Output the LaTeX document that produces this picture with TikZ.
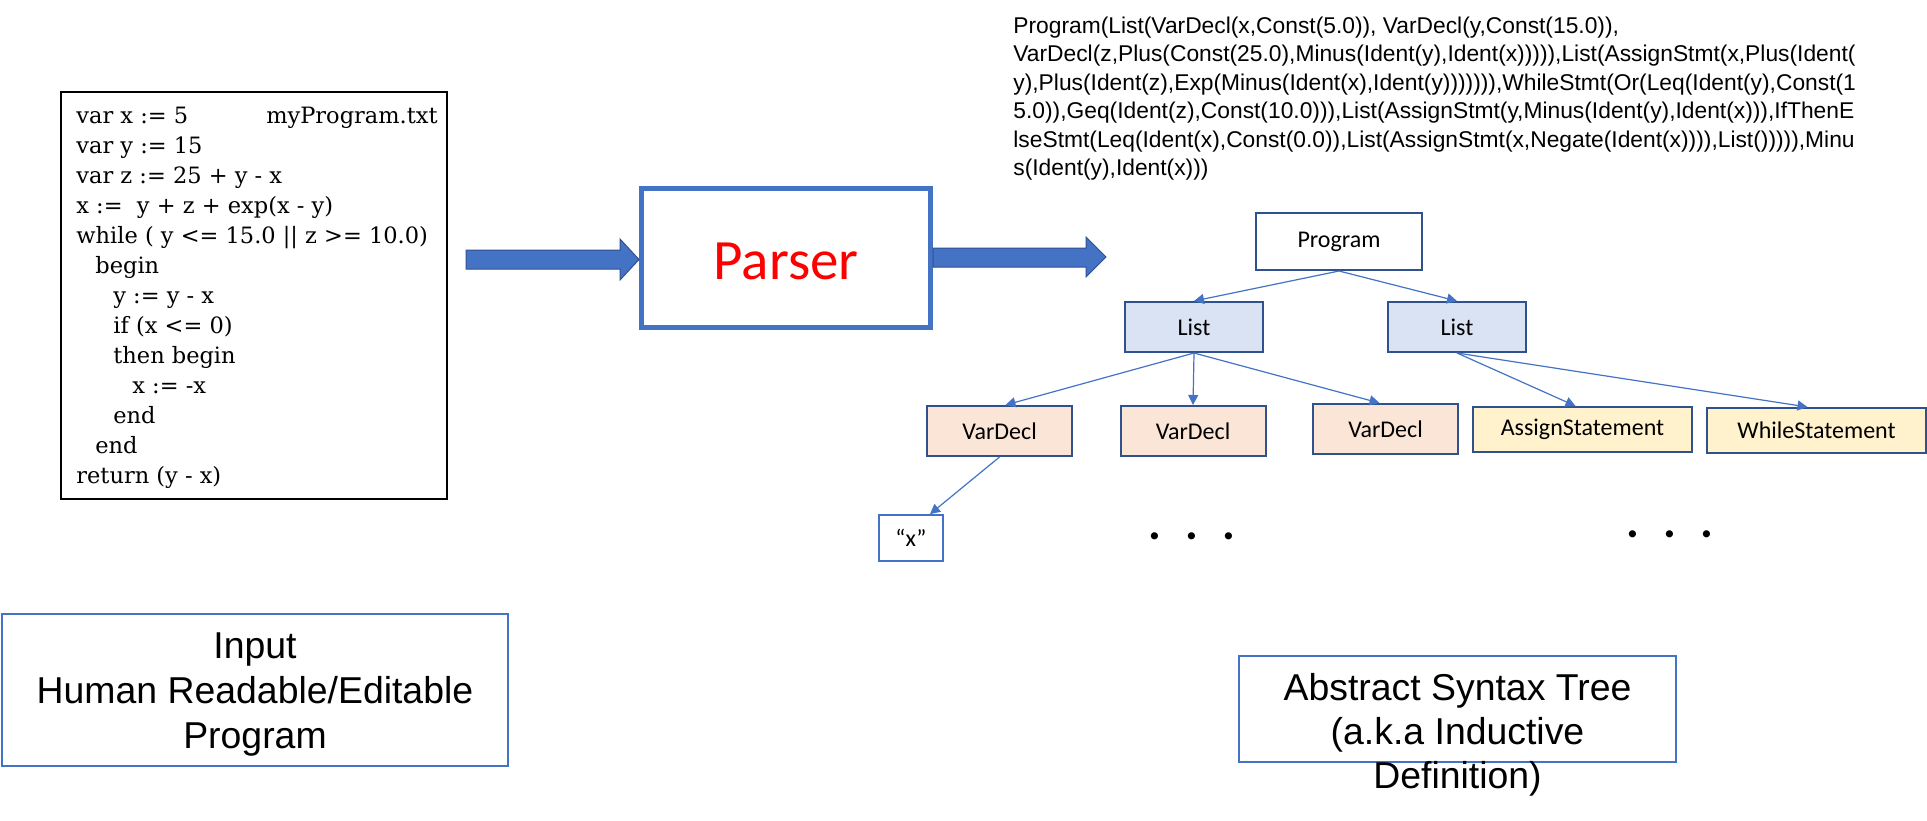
\documentclass[tikz,border=0pt]{standalone}
\usepackage{fontspec}
\newfontfamily\calibri{Carlito}
\newfontfamily\arialf{Liberation Sans}
\newfontfamily\codef{DejaVu Serif}
\usetikzlibrary{arrows.meta}
\definecolor{ofblue}{HTML}{4472C4}
\definecolor{ofdark}{HTML}{2F528F}
\definecolor{listfill}{HTML}{DAE3F3}
\definecolor{declfill}{HTML}{FBE5D6}
\definecolor{stmtfill}{HTML}{FFF2CC}
\definecolor{parsered}{HTML}{FF0000}
\begin{document}
\begin{tikzpicture}[x=0.5pt,y=-0.5pt,
  treebox/.style={draw=ofdark, line width=1pt, inner sep=0pt,
    font=\calibri\fontsize{12}{14}\selectfont, minimum height=25pt},
  listbox/.style={treebox, fill=listfill, minimum width=69pt},
  declbox/.style={treebox, fill=declfill, minimum width=72.5pt},
  stmtbox/.style={treebox, fill=stmtfill, minimum width=109.5pt, minimum height=22.5pt},
  edge/.style={draw=ofblue, line width=0.6pt, -{Triangle[length=5pt,width=5pt]}},
  bigarrow/.style={fill=ofblue, draw=ofdark, line width=0.5pt},
  codeline/.style={anchor=base west, inner sep=0pt, font=\codef\fontsize{11.25}{13}\selectfont},
  asttxt/.style={anchor=base west, inner sep=0pt, font=\arialf\fontsize{11.4}{14}\selectfont},
  captxt/.style={anchor=base, inner sep=0pt, font=\arialf\fontsize{18.7}{22}\selectfont},
  capbox/.style={draw=ofblue, line width=0.75pt, inner sep=0pt},
  dotstxt/.style={anchor=base, inner sep=0pt, font=\calibri\bfseries\fontsize{24}{24}\selectfont}
]
\useasboundingbox (0,0) rectangle (1927,820);
\fill[white] (0,0) rectangle (1927,820);

% ---- code box ----
\node[draw=black, line width=1pt, minimum width=193pt, minimum height=203.5pt, inner sep=0pt] (codebox) at (254,295.5) {};
\node[codeline] (c1) at (76,123) {var x := 5};
\node[codeline, anchor=base east] (fname) at (438,123) {myProgram.txt};
\node[codeline] (c2) at (76,153) {var y := 15};
\node[codeline] (c3) at (76,183) {var z := 25 + y - x};
\node[codeline] (c4) at (76,213) {x := \ y + z + exp(x - y)};
\node[codeline] (c5) at (76,243) {while ( y <= 15.0 || z >= 10.0)};
\node[codeline] (c6) at (95,273) {begin};
\node[codeline] (c7) at (113,303) {y := y - x};
\node[codeline] (c8) at (113,333) {if (x <= 0)};
\node[codeline] (c9) at (113,363) {then begin};
\node[codeline] (c10) at (132,393) {x := -x};
\node[codeline] (c11) at (113,423) {end};
\node[codeline] (c12) at (95,453) {end};
\node[codeline] (c13) at (76,483) {return (y - x)};

% ---- parser ----
\node[draw=ofblue, line width=2.5pt, minimum width=144.5pt, minimum height=69.5pt, inner sep=0pt] (parser) at (786,258) {};
\node[anchor=base, inner sep=0pt, text=parsered, font=\calibri\fontsize{28.5}{30}\selectfont] (ptxt) at (786,279) {Parser};

\draw[bigarrow] (466,250) -- (620,250) -- (620,239) -- (639,259.5) -- (620,280) -- (620,269) -- (466,269) -- cycle;
\draw[bigarrow] (933,248) -- (1086,248) -- (1086,237) -- (1106,257) -- (1086,277) -- (1086,267) -- (933,267) -- cycle;

% ---- textual AST ----
\node[asttxt] (t1) at (1013,33) {Program(List(VarDecl(x,Const(5.0)), VarDecl(y,Const(15.0)),};
\node[asttxt] (t2) at (1013,61.5) {VarDecl(z,Plus(Const(25.0),Minus(Ident(y),Ident(x))))),List(AssignStmt(x,Plus(Ident(};
\node[asttxt] (t3) at (1013,90) {y),Plus(Ident(z),Exp(Minus(Ident(x),Ident(y))))))),WhileStmt(Or(Leq(Ident(y),Const(1};
\node[asttxt] (t4) at (1013,118.5) {5.0)),Geq(Ident(z),Const(10.0))),List(AssignStmt(y,Minus(Ident(y),Ident(x))),IfThenE};
\node[asttxt] (t5) at (1013,147) {lseStmt(Leq(Ident(x),Const(0.0)),List(AssignStmt(x,Negate(Ident(x)))),List())))),Minu};
\node[asttxt] (t6) at (1013,175.5) {s(Ident(y),Ident(x)))};

% ---- tree ----
\node[treebox, fill=white, minimum width=83pt, minimum height=28.5pt] (prog) at (1339,241.5) {Program};
\node[listbox] (list1) at (1194,327) {List};
\node[listbox] (list2) at (1457,327) {List};
\node[declbox] (vd1) at (999.5,431) {VarDecl};
\node[declbox] (vd2) at (1193,431) {VarDecl};
\node[declbox] (vd3) at (1385.5,429) {VarDecl};
\node[stmtbox] (assign) at (1582.5,429.5) {AssignStatement};
\node[stmtbox] (while) at (1816.5,430.5) {WhileStatement};
\node[treebox, draw=ofblue, line width=0.9pt, fill=white, minimum width=32pt, minimum height=23pt] (xid) at (911,538) {“x”};

\draw[edge] (prog.south) -- (list1.north);
\draw[edge] (prog.south) -- (list2.north);
\draw[edge] (list1.south) -- ([xshift=3pt]vd1.north);
\draw[edge] (list1.south) -- (vd2.north);
\draw[edge] (list1.south) -- ([xshift=-3pt]vd3.north);
\draw[edge] (list2.south) -- ([xshift=-3.5pt]assign.north);
\draw[edge] (list2.south) -- ([xshift=-4.5pt]while.north);
\draw[edge] (vd1.south) -- ([xshift=9.5pt]xid.north);

\node[dotstxt] (dots1) at (1192,539) {.\hspace{12.1pt}.\hspace{12.1pt}.};
\node[dotstxt] (dots2) at (1670,537) {.\hspace{12.1pt}.\hspace{12.1pt}.};

% ---- captions ----
\node[capbox, minimum width=253pt, minimum height=76pt] (inbox) at (255,690) {};
\node[captxt] (in1) at (255,658) {Input};
\node[captxt] (in2) at (255,703) {Human Readable/Editable};
\node[captxt] (in3) at (255,748) {Program};

\node[capbox, minimum width=218.5pt, minimum height=53pt] (astbox) at (1457.5,709) {};
\node[captxt] (as1) at (1457.5,700) {Abstract Syntax Tree};
\node[captxt] (as2) at (1457.5,744) {(a.k.a Inductive};
\node[captxt] (as3) at (1457.5,788) {Definition)};
\end{tikzpicture}
\end{document}
